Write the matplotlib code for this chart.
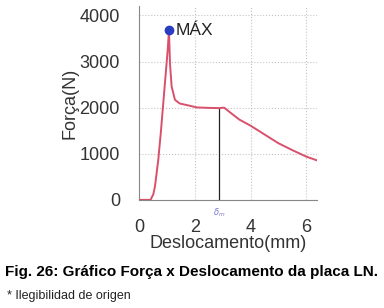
import matplotlib.pyplot as plt

plt.rcParams['font.family'] = ['Liberation Sans', 'DejaVu Sans']

# curva força x deslocamento
desloc = [0, 0.40, 0.50, 0.56, 0.68, 0.77, 0.86, 0.95, 1.02, 1.065,
          1.10, 1.16, 1.28, 1.45, 1.82, 2.06, 2.5, 2.88, 3.05, 3.3,
          3.6, 4.0, 4.5, 5.0, 5.5, 6.0, 6.4]
forca = [0, 0, 120, 290, 870, 1450, 2100, 2750, 3260, 3680,
         2970, 2460, 2170, 2090, 2040, 2005, 1995, 1990, 2000, 1880,
         1740, 1610, 1420, 1230, 1080, 940, 855]

x_max, f_max = 1.065, 3680
delta_m = 2.88
f_delta = 1990

fig = plt.figure(figsize=(3.84, 3.08), dpi=100)
ax = fig.add_axes([0.363, 0.351, 0.463, 0.629])

ax.plot(desloc, forca, color='#d9506a', lw=1.4, zorder=3)
ax.plot(x_max, f_max, 'o', color='#2a3cc0', markersize=6, zorder=4)
ax.text(x_max + 0.24, f_max, 'MÁX', fontsize=12.5, color='#222222', va='center')
ax.vlines(delta_m, 0, f_delta, color='#222222', lw=0.9, zorder=2)
ax.text(delta_m, -280, r'$\delta_m$', fontsize=6, color='#7777cc', ha='center', va='center')

ax.set_xlim(0, 6.4)
ax.set_ylim(0, 4200)
ax.set_xticks([0, 2, 4, 6])
ax.set_yticks([0, 1000, 2000, 3000, 4000])
ax.grid(True, color='#c4c4c4', linestyle=':', lw=0.8)
ax.tick_params(length=0, labelsize=13, labelcolor='#333333', pad=14)
for s in ['top', 'right']:
    ax.spines[s].set_visible(False)
for s in ['left', 'bottom']:
    ax.spines[s].set_color('#888888')

ax.set_xlabel('Deslocamento(mm)', fontsize=13, color='#333333', labelpad=-1)
ax.set_ylabel('Força(N)', fontsize=13, color='#333333', labelpad=1)

fig.text(0.013, 0.117, 'Fig. 26: Gráfico Força x Deslocamento da placa LN.',
         fontsize=11, fontweight='bold', color='black', va='center')
fig.text(0.018, 0.038, '* Ilegibilidad de origen', fontsize=9, color='#222222', va='center')

fig.savefig('out.png', dpi=100)
plt.close()
